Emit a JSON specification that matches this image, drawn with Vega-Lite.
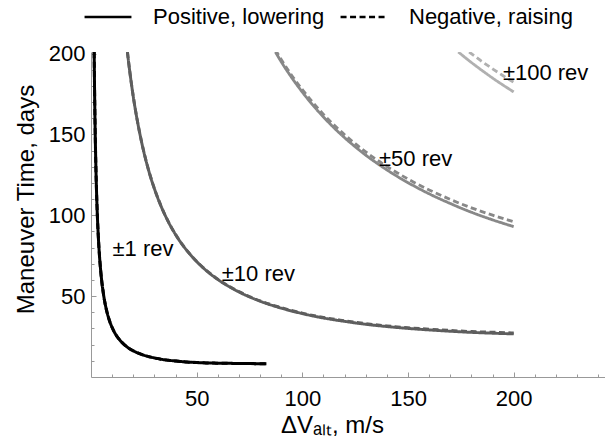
{
  "$schema": "https://vega.github.io/schema/vega-lite/v6.json",
  "autosize": {"type": "none"},
  "padding": {"left": 91, "top": 52, "right": 0, "bottom": 66},
  "width": 514,
  "height": 325,
  "background": "white",
  "config": {"font": "Liberation Sans", "view": {"stroke": null}, "axis": {"labelOverlap": false, "labelFlush": false}},
  "datasets": {
    "curves": [
      {"n": "±1", "type": "Positive, lowering", "x": 1.493, "y": 201.0},
      {"n": "±1", "type": "Positive, lowering", "x": 1.6, "y": 187.6},
      {"n": "±1", "type": "Positive, lowering", "x": 1.8, "y": 166.8},
      {"n": "±1", "type": "Positive, lowering", "x": 2.0, "y": 150.1},
      {"n": "±1", "type": "Positive, lowering", "x": 2.3, "y": 130.6},
      {"n": "±1", "type": "Positive, lowering", "x": 2.6, "y": 115.5},
      {"n": "±1", "type": "Positive, lowering", "x": 3.0, "y": 100.2},
      {"n": "±1", "type": "Positive, lowering", "x": 3.5, "y": 85.9},
      {"n": "±1", "type": "Positive, lowering", "x": 4.0, "y": 75.2},
      {"n": "±1", "type": "Positive, lowering", "x": 4.5, "y": 66.9},
      {"n": "±1", "type": "Positive, lowering", "x": 5.0, "y": 60.3},
      {"n": "±1", "type": "Positive, lowering", "x": 6.0, "y": 50.4},
      {"n": "±1", "type": "Positive, lowering", "x": 7.0, "y": 43.3},
      {"n": "±1", "type": "Positive, lowering", "x": 8.0, "y": 38.0},
      {"n": "±1", "type": "Positive, lowering", "x": 9.0, "y": 33.9},
      {"n": "±1", "type": "Positive, lowering", "x": 10, "y": 30.6},
      {"n": "±1", "type": "Positive, lowering", "x": 12, "y": 25.7},
      {"n": "±1", "type": "Positive, lowering", "x": 14, "y": 22.3},
      {"n": "±1", "type": "Positive, lowering", "x": 16, "y": 19.7},
      {"n": "±1", "type": "Positive, lowering", "x": 18, "y": 17.7},
      {"n": "±1", "type": "Positive, lowering", "x": 20, "y": 16.2},
      {"n": "±1", "type": "Positive, lowering", "x": 23, "y": 14.4},
      {"n": "±1", "type": "Positive, lowering", "x": 26, "y": 13.1},
      {"n": "±1", "type": "Positive, lowering", "x": 30, "y": 11.8},
      {"n": "±1", "type": "Positive, lowering", "x": 35, "y": 10.6},
      {"n": "±1", "type": "Positive, lowering", "x": 40, "y": 9.9},
      {"n": "±1", "type": "Positive, lowering", "x": 45, "y": 9.3},
      {"n": "±1", "type": "Positive, lowering", "x": 50, "y": 8.95},
      {"n": "±1", "type": "Positive, lowering", "x": 55, "y": 8.7},
      {"n": "±1", "type": "Positive, lowering", "x": 60, "y": 8.55},
      {"n": "±1", "type": "Positive, lowering", "x": 65, "y": 8.45},
      {"n": "±1", "type": "Positive, lowering", "x": 70, "y": 8.38},
      {"n": "±1", "type": "Positive, lowering", "x": 75, "y": 8.3},
      {"n": "±1", "type": "Positive, lowering", "x": 83, "y": 8.2},
      {"n": "±1", "type": "Negative, raising", "x": 1.493, "y": 201.0},
      {"n": "±1", "type": "Negative, raising", "x": 1.6, "y": 187.6},
      {"n": "±1", "type": "Negative, raising", "x": 1.8, "y": 166.8},
      {"n": "±1", "type": "Negative, raising", "x": 2.0, "y": 150.1},
      {"n": "±1", "type": "Negative, raising", "x": 2.3, "y": 130.6},
      {"n": "±1", "type": "Negative, raising", "x": 2.6, "y": 115.5},
      {"n": "±1", "type": "Negative, raising", "x": 3.0, "y": 100.2},
      {"n": "±1", "type": "Negative, raising", "x": 3.5, "y": 85.9},
      {"n": "±1", "type": "Negative, raising", "x": 4.0, "y": 75.2},
      {"n": "±1", "type": "Negative, raising", "x": 4.5, "y": 66.9},
      {"n": "±1", "type": "Negative, raising", "x": 5.0, "y": 60.3},
      {"n": "±1", "type": "Negative, raising", "x": 6.0, "y": 50.4},
      {"n": "±1", "type": "Negative, raising", "x": 7.0, "y": 43.3},
      {"n": "±1", "type": "Negative, raising", "x": 8.0, "y": 38.0},
      {"n": "±1", "type": "Negative, raising", "x": 9.0, "y": 33.9},
      {"n": "±1", "type": "Negative, raising", "x": 10, "y": 30.6},
      {"n": "±1", "type": "Negative, raising", "x": 12, "y": 25.7},
      {"n": "±1", "type": "Negative, raising", "x": 14, "y": 22.3},
      {"n": "±1", "type": "Negative, raising", "x": 16, "y": 19.7},
      {"n": "±1", "type": "Negative, raising", "x": 18, "y": 17.7},
      {"n": "±1", "type": "Negative, raising", "x": 20, "y": 16.2},
      {"n": "±1", "type": "Negative, raising", "x": 23, "y": 14.4},
      {"n": "±1", "type": "Negative, raising", "x": 26, "y": 13.1},
      {"n": "±1", "type": "Negative, raising", "x": 30, "y": 11.8},
      {"n": "±1", "type": "Negative, raising", "x": 35, "y": 10.6},
      {"n": "±1", "type": "Negative, raising", "x": 40, "y": 9.9},
      {"n": "±1", "type": "Negative, raising", "x": 45, "y": 9.3},
      {"n": "±1", "type": "Negative, raising", "x": 50, "y": 8.95},
      {"n": "±1", "type": "Negative, raising", "x": 55, "y": 8.7},
      {"n": "±1", "type": "Negative, raising", "x": 60, "y": 8.55},
      {"n": "±1", "type": "Negative, raising", "x": 65, "y": 8.45},
      {"n": "±1", "type": "Negative, raising", "x": 70, "y": 8.38},
      {"n": "±1", "type": "Negative, raising", "x": 75, "y": 8.3},
      {"n": "±1", "type": "Negative, raising", "x": 83, "y": 8.2},
      {"n": "±10", "type": "Positive, lowering", "x": 17.23, "y": 201.0},
      {"n": "±10", "type": "Positive, lowering", "x": 18, "y": 192.5},
      {"n": "±10", "type": "Positive, lowering", "x": 19, "y": 182.5},
      {"n": "±10", "type": "Positive, lowering", "x": 20, "y": 173.4},
      {"n": "±10", "type": "Positive, lowering", "x": 22, "y": 157.9},
      {"n": "±10", "type": "Positive, lowering", "x": 24, "y": 144.9},
      {"n": "±10", "type": "Positive, lowering", "x": 26, "y": 133.9},
      {"n": "±10", "type": "Positive, lowering", "x": 28, "y": 124.5},
      {"n": "±10", "type": "Positive, lowering", "x": 30, "y": 116.4},
      {"n": "±10", "type": "Positive, lowering", "x": 33, "y": 106.1},
      {"n": "±10", "type": "Positive, lowering", "x": 36, "y": 97.5},
      {"n": "±10", "type": "Positive, lowering", "x": 40, "y": 88.1},
      {"n": "±10", "type": "Positive, lowering", "x": 45, "y": 78.8},
      {"n": "±10", "type": "Positive, lowering", "x": 50, "y": 71.4},
      {"n": "±10", "type": "Positive, lowering", "x": 55, "y": 65.3},
      {"n": "±10", "type": "Positive, lowering", "x": 60, "y": 60.3},
      {"n": "±10", "type": "Positive, lowering", "x": 70, "y": 52.6},
      {"n": "±10", "type": "Positive, lowering", "x": 80, "y": 46.9},
      {"n": "±10", "type": "Positive, lowering", "x": 90, "y": 42.6},
      {"n": "±10", "type": "Positive, lowering", "x": 100, "y": 39.2},
      {"n": "±10", "type": "Positive, lowering", "x": 110, "y": 36.5},
      {"n": "±10", "type": "Positive, lowering", "x": 120, "y": 34.4},
      {"n": "±10", "type": "Positive, lowering", "x": 130, "y": 32.6},
      {"n": "±10", "type": "Positive, lowering", "x": 140, "y": 31.2},
      {"n": "±10", "type": "Positive, lowering", "x": 150, "y": 30.05},
      {"n": "±10", "type": "Positive, lowering", "x": 160, "y": 29.1},
      {"n": "±10", "type": "Positive, lowering", "x": 170, "y": 28.3},
      {"n": "±10", "type": "Positive, lowering", "x": 180, "y": 27.6},
      {"n": "±10", "type": "Positive, lowering", "x": 190, "y": 27.1},
      {"n": "±10", "type": "Positive, lowering", "x": 200, "y": 26.65},
      {"n": "±10", "type": "Negative, raising", "x": 17.23, "y": 201.0},
      {"n": "±10", "type": "Negative, raising", "x": 18, "y": 192.55},
      {"n": "±10", "type": "Negative, raising", "x": 19, "y": 182.5},
      {"n": "±10", "type": "Negative, raising", "x": 20, "y": 173.5},
      {"n": "±10", "type": "Negative, raising", "x": 22, "y": 158.0},
      {"n": "±10", "type": "Negative, raising", "x": 24, "y": 145.0},
      {"n": "±10", "type": "Negative, raising", "x": 26, "y": 134.0},
      {"n": "±10", "type": "Negative, raising", "x": 28, "y": 124.6},
      {"n": "±10", "type": "Negative, raising", "x": 30, "y": 116.5},
      {"n": "±10", "type": "Negative, raising", "x": 33, "y": 106.2},
      {"n": "±10", "type": "Negative, raising", "x": 36, "y": 97.6},
      {"n": "±10", "type": "Negative, raising", "x": 40, "y": 88.2},
      {"n": "±10", "type": "Negative, raising", "x": 45, "y": 78.9},
      {"n": "±10", "type": "Negative, raising", "x": 50, "y": 71.5},
      {"n": "±10", "type": "Negative, raising", "x": 55, "y": 65.5},
      {"n": "±10", "type": "Negative, raising", "x": 60, "y": 60.5},
      {"n": "±10", "type": "Negative, raising", "x": 70, "y": 52.8},
      {"n": "±10", "type": "Negative, raising", "x": 80, "y": 47.1},
      {"n": "±10", "type": "Negative, raising", "x": 90, "y": 42.9},
      {"n": "±10", "type": "Negative, raising", "x": 100, "y": 39.5},
      {"n": "±10", "type": "Negative, raising", "x": 110, "y": 36.8},
      {"n": "±10", "type": "Negative, raising", "x": 120, "y": 34.8},
      {"n": "±10", "type": "Negative, raising", "x": 130, "y": 33.0},
      {"n": "±10", "type": "Negative, raising", "x": 140, "y": 31.6},
      {"n": "±10", "type": "Negative, raising", "x": 150, "y": 30.5},
      {"n": "±10", "type": "Negative, raising", "x": 160, "y": 29.6},
      {"n": "±10", "type": "Negative, raising", "x": 170, "y": 28.8},
      {"n": "±10", "type": "Negative, raising", "x": 180, "y": 28.1},
      {"n": "±10", "type": "Negative, raising", "x": 190, "y": 27.7},
      {"n": "±10", "type": "Negative, raising", "x": 200, "y": 27.25},
      {"n": "±50", "type": "Positive, lowering", "x": 87.25, "y": 201.0},
      {"n": "±50", "type": "Positive, lowering", "x": 90, "y": 195.0},
      {"n": "±50", "type": "Positive, lowering", "x": 95, "y": 185.1},
      {"n": "±50", "type": "Positive, lowering", "x": 100, "y": 176.2},
      {"n": "±50", "type": "Positive, lowering", "x": 105, "y": 168.1},
      {"n": "±50", "type": "Positive, lowering", "x": 110, "y": 160.8},
      {"n": "±50", "type": "Positive, lowering", "x": 115, "y": 154.1},
      {"n": "±50", "type": "Positive, lowering", "x": 120, "y": 148.0},
      {"n": "±50", "type": "Positive, lowering", "x": 125, "y": 142.4},
      {"n": "±50", "type": "Positive, lowering", "x": 130, "y": 137.2},
      {"n": "±50", "type": "Positive, lowering", "x": 135, "y": 132.5},
      {"n": "±50", "type": "Positive, lowering", "x": 140, "y": 128.1},
      {"n": "±50", "type": "Positive, lowering", "x": 145, "y": 124.0},
      {"n": "±50", "type": "Positive, lowering", "x": 150, "y": 120.2},
      {"n": "±50", "type": "Positive, lowering", "x": 160, "y": 113.3},
      {"n": "±50", "type": "Positive, lowering", "x": 170, "y": 107.3},
      {"n": "±50", "type": "Positive, lowering", "x": 180, "y": 101.9},
      {"n": "±50", "type": "Positive, lowering", "x": 190, "y": 97.2},
      {"n": "±50", "type": "Positive, lowering", "x": 200, "y": 93.0},
      {"n": "±50", "type": "Negative, raising", "x": 87.25, "y": 202.3},
      {"n": "±50", "type": "Negative, raising", "x": 90, "y": 196.4},
      {"n": "±50", "type": "Negative, raising", "x": 95, "y": 186.5},
      {"n": "±50", "type": "Negative, raising", "x": 100, "y": 177.7},
      {"n": "±50", "type": "Negative, raising", "x": 105, "y": 169.7},
      {"n": "±50", "type": "Negative, raising", "x": 110, "y": 162.4},
      {"n": "±50", "type": "Negative, raising", "x": 115, "y": 155.8},
      {"n": "±50", "type": "Negative, raising", "x": 120, "y": 149.8},
      {"n": "±50", "type": "Negative, raising", "x": 125, "y": 144.3},
      {"n": "±50", "type": "Negative, raising", "x": 130, "y": 139.2},
      {"n": "±50", "type": "Negative, raising", "x": 135, "y": 134.5},
      {"n": "±50", "type": "Negative, raising", "x": 140, "y": 130.2},
      {"n": "±50", "type": "Negative, raising", "x": 145, "y": 126.2},
      {"n": "±50", "type": "Negative, raising", "x": 150, "y": 122.4},
      {"n": "±50", "type": "Negative, raising", "x": 160, "y": 115.7},
      {"n": "±50", "type": "Negative, raising", "x": 170, "y": 109.8},
      {"n": "±50", "type": "Negative, raising", "x": 180, "y": 104.6},
      {"n": "±50", "type": "Negative, raising", "x": 190, "y": 100.1},
      {"n": "±50", "type": "Negative, raising", "x": 200, "y": 96.0},
      {"n": "±100", "type": "Positive, lowering", "x": 173.8, "y": 201.0},
      {"n": "±100", "type": "Positive, lowering", "x": 177, "y": 197.6},
      {"n": "±100", "type": "Positive, lowering", "x": 180, "y": 194.5},
      {"n": "±100", "type": "Positive, lowering", "x": 185, "y": 189.6},
      {"n": "±100", "type": "Positive, lowering", "x": 190, "y": 184.9},
      {"n": "±100", "type": "Positive, lowering", "x": 195, "y": 180.5},
      {"n": "±100", "type": "Positive, lowering", "x": 200, "y": 176.3},
      {"n": "±100", "type": "Negative, raising", "x": 178.95, "y": 201.0},
      {"n": "±100", "type": "Negative, raising", "x": 182, "y": 198.0},
      {"n": "±100", "type": "Negative, raising", "x": 185, "y": 195.1},
      {"n": "±100", "type": "Negative, raising", "x": 190, "y": 190.6},
      {"n": "±100", "type": "Negative, raising", "x": 195, "y": 186.3},
      {"n": "±100", "type": "Negative, raising", "x": 200, "y": 182.3}
    ],
    "labels": [
      {"label": "±1 rev", "x": 24.6, "y": 74.9},
      {"label": "±10 rev", "x": 79.2, "y": 59.1},
      {"label": "±50 rev", "x": 153.6, "y": 130.4},
      {"label": "±100 rev", "x": 215.1, "y": 183.5}
    ]
  },
  "encoding": {
    "x": {
      "field": "x", "type": "quantitative",
      "scale": {"domain": [0, 243.2], "nice": false, "zero": false},
      "axis": {
        "values": [10, 20, 30, 40, 50, 60, 70, 80, 90, 100, 110, 120, 130, 140, 150, 160, 170, 180, 190, 200, 210, 220, 230, 240],
        "labelExpr": "datum.value % 50 === 0 ? format(datum.value, 'd') : ''",
        "labelOverlap": false, "labelFlush": false,
        "tickSize": {"condition": {"test": "datum.value % 50 === 0", "value": -5}, "value": -3},
        "tickColor": "#999999", "domainColor": "#999999", "grid": false,
        "labelFontSize": 22, "labelColor": "black", "labelPadding": 16,
        "title": "ΔVₐₗₜ, m/s", "titleFontSize": 24, "titleFontWeight": "normal", "titleColor": "black",
        "titleX": 241, "titleY": 55, "titleBaseline": "alphabetic", "titleAlign": "center"
      }
    },
    "y": {
      "field": "y", "type": "quantitative",
      "scale": {"domain": [0, 201], "nice": false, "zero": false},
      "axis": {
        "values": [10, 20, 30, 40, 50, 60, 70, 80, 90, 100, 110, 120, 130, 140, 150, 160, 170, 180, 190, 200],
        "labelExpr": "datum.value % 50 === 0 ? format(datum.value, 'd') : ''",
        "labelOverlap": false, "labelFlush": false,
        "tickSize": {"condition": {"test": "datum.value % 50 === 0", "value": -5}, "value": -3},
        "tickColor": "#999999", "domainColor": "#999999", "grid": false,
        "labelFontSize": 22, "labelColor": "black", "labelPadding": 11,
        "title": "Maneuver Time, days", "titleFontSize": 24, "titleFontWeight": "normal", "titleColor": "black",
        "titleX": -58, "titleY": 147, "titleBaseline": "alphabetic", "titleAlign": "center", "titleAngle": 270
      }
    }
  },
  "layer": [
    {
      "data": {"name": "curves"},
      "mark": {"type": "line", "clip": true, "interpolate": "monotone"},
      "encoding": {
        "color": {
          "field": "n", "type": "nominal",
          "scale": {"domain": ["±1", "±10", "±50", "±100"], "range": ["#000000", "#5e5e5e", "#888888", "#b0b0b0"]},
          "legend": null
        },
        "strokeWidth": {
          "field": "n", "type": "nominal",
          "scale": {"domain": ["±1", "±10", "±50", "±100"], "range": [3, 2.8, 2.3, 2]},
          "legend": null
        },
        "strokeDash": {
          "field": "type", "type": "nominal",
          "scale": {"domain": ["Positive, lowering", "Negative, raising"], "range": [[1, 0], [6, 3.5]]},
          "legend": {
            "title": null, "orient": "none", "direction": "horizontal",
            "legendX": -8, "legendY": -60,
            "labelFontSize": 22, "labelColor": "black", "labelFont": "Liberation Sans", "labelLimit": 0,
            "symbolType": "stroke", "symbolSize": 2200, "symbolStrokeWidth": 2.5, "symbolStrokeColor": "black",
            "labelOffset": 20, "columnPadding": 10, "padding": 0
          }
        }
      }
    },
    {
      "data": {"name": "labels"},
      "mark": {"type": "text", "align": "center", "baseline": "alphabetic", "fontSize": 22, "font": "Liberation Sans", "color": "black"},
      "encoding": {
        "text": {"field": "label"}
      }
    }
  ]
}
